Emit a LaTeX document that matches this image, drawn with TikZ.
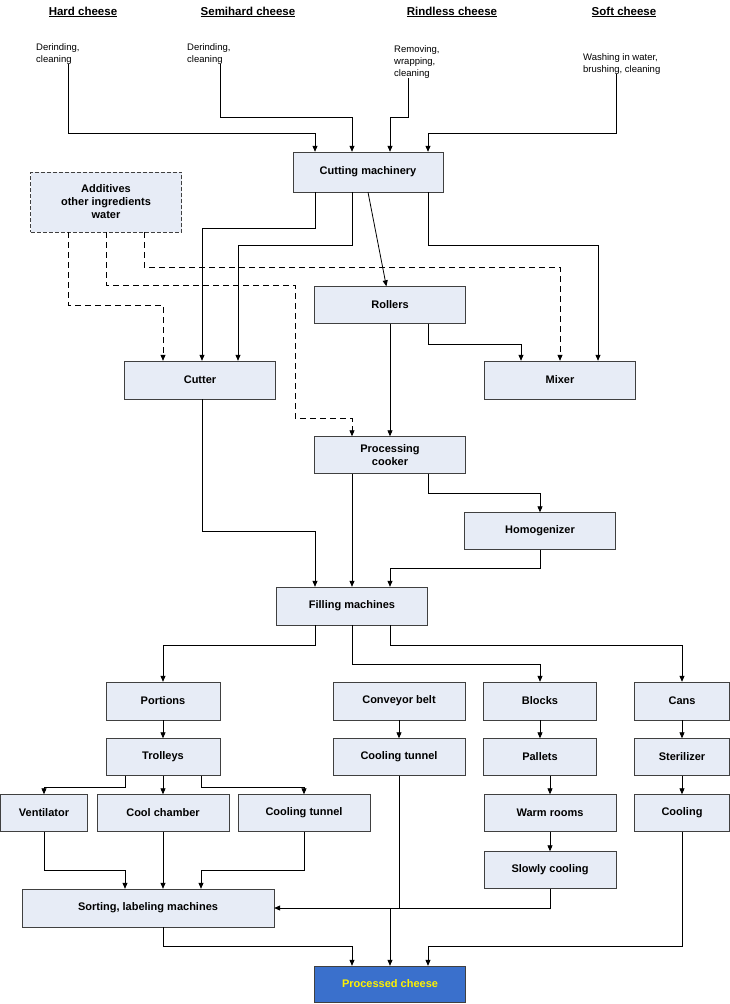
\documentclass[tikz,border=0pt]{standalone}
\usepackage{fontspec}
\setmainfont{Liberation Sans}
\usetikzlibrary{arrows.meta}
\definecolor{boxfill}{RGB}{231,236,246}
\definecolor{finalfill}{RGB}{58,112,204}

\begin{document}
\begin{tikzpicture}[
    x=1pt, y=-1pt,
    box/.style={draw=black!75, fill=boxfill, font=\bfseries\fontsize{11}{13}\selectfont, inner sep=1pt, align=center},
    head/.style={font=\bfseries\fontsize{11.5}{13}\selectfont, inner sep=0pt},
    note/.style={font=\fontsize{9.5}{12}\selectfont, align=left, anchor=north west, inner sep=0pt},
    flow/.style={-{Triangle[length=6pt,width=5pt]}, thick},
    add/.style={flow, dashed, dash pattern=on 6pt off 4pt}
]
   \useasboundingbox (0,0) rectangle (730,1004);

   % Sources
   \node[head] (hard) at (83,12) {\underline{Hard cheese}};
   \node[head] (semi) at (248,12) {\underline{Semihard cheese}};
   \node[head] (rind) at (452,12) {\underline{Rindless cheese}};
   \node[head] (soft) at (624,12) {\underline{Soft cheese}};
   \node[note] (hardn) at (36,43) {Derinding,\\cleaning};
   \node[note] (semin) at (187,43) {Derinding,\\cleaning};
   \node[note] (rindn) at (394,45) {Removing,\\wrapping,\\cleaning};
   \node[note] (softn) at (583,53) {Washing in water,\\brushing, cleaning};

   % Boxes
   \node[box, minimum width=150, minimum height=40] (cut) at (368,172) {Cutting machinery};
   \node[box, minimum width=151, minimum height=60, dashed, dash pattern=on 4pt off 2pt] (addi) at (106,202) {Additives\\other ingredients\\water};
   \node[box, minimum width=151, minimum height=37] (roll) at (390,305) {Rollers};
   \node[box, minimum width=151, minimum height=38] (cutter) at (200,380) {Cutter};
   \node[box, minimum width=151, minimum height=38] (mix) at (560,380) {Mixer};
   \node[box, minimum width=151, minimum height=37] (cook) at (390,455) {Processing\\cooker};
   \node[box, minimum width=151, minimum height=37] (homo) at (540,531) {Homogenizer};
   \node[box, minimum width=151, minimum height=38] (fill) at (352,606) {Filling machines};
   \node[box, minimum width=114, minimum height=38] (port) at (163,701) {Portions};
   \node[box, minimum width=132, minimum height=38] (belt) at (399,701) {Conveyor belt};
   \node[box, minimum width=113, minimum height=38] (block) at (540,701) {Blocks};
   \node[box, minimum width=95, minimum height=38] (cans) at (682,701) {Cans};
   \node[box, minimum width=114, minimum height=37] (troll) at (163,757) {Trolleys};
   \node[box, minimum width=132, minimum height=37] (tunA) at (399,757) {Cooling tunnel};
   \node[box, minimum width=113, minimum height=37] (pall) at (540,757) {Pallets};
   \node[box, minimum width=95, minimum height=37] (steri) at (682,757) {Sterilizer};
   \node[box, minimum width=87, minimum height=37] (vent) at (44,813) {Ventilator};
   \node[box, minimum width=132, minimum height=37] (cham) at (163,813) {Cool chamber};
   \node[box, minimum width=132, minimum height=37] (tunB) at (304,813) {Cooling tunnel};
   \node[box, minimum width=132, minimum height=37] (warm) at (550,813) {Warm rooms};
   \node[box, minimum width=95, minimum height=37] (cool) at (682,813) {Cooling};
   \node[box, minimum width=132, minimum height=37] (slow) at (550,870) {Slowly cooling};
   \node[box, minimum width=252, minimum height=38] (sort) at (148,908) {Sorting, labeling machines};
   \node[box, minimum width=151, minimum height=36, fill=finalfill, text=yellow] (proc) at (390,984) {Processed cheese};

   % Into the cutting machinery
   \draw[flow] (hardn.south -| 68,0) |- (315,133) -- (cut.north -| 315,0);
   \draw[flow] (semin.south -| 220,0) |- (352,117) -- (cut.north -| 352,0);
   \draw[flow] (rindn.south -| 408,0) |- (390,117) -- (cut.north -| 390,0);
   \draw[flow] (softn.south -| 616,0) |- (428,133) -- (cut.north -| 428,0);

   % Out of the cutting machinery
   \draw[flow] (cut.south -| 315,0) |- (202,228) -- (cutter.north -| 202,0);
   \draw[flow] (cut.south -| 352,0) |- (238,245) -- (cutter.north -| 238,0);
   \draw[flow] (cut.south) -- (roll);
   \draw[flow] (cut.south -| 428,0) |- (598,245) -- (mix.north -| 598,0);
   \draw[flow] (roll.south -| 428,0) |- (521,344) -- (mix.north -| 521,0);
   \draw[flow] (roll) -- (cook);

   % Additives
   \draw[add] (addi.south -| 68,0) |- (163,305) -- (cutter.north -| 163,0);
   \draw[add] (addi.south -| 106,0) |- (295,285) |- (352,418) -- (cook.north -| 352,0);
   \draw[add] (addi.south -| 144,0) |- (560,267) -- (mix.north -| 560,0);

   % To the filling machines
   \draw[flow] (cutter.south -| 202,0) |- (315,531) -- (fill.north -| 315,0);
   \draw[flow] (cook.south -| 352,0) -- (fill.north -| 352,0);
   \draw[flow] (cook.south -| 428,0) |- (540,493) -- (homo.north);
   \draw[flow] (homo.south) |- (390,568) -- (fill.north -| 390,0);

   % Out of the filling machines
   \draw[flow] (fill.south -| 315,0) |- (163,645) -- (port.north);
   \draw[flow] (fill.south -| 352,0) |- (540,664) -- (block.north);
   \draw[flow] (fill.south -| 390,0) |- (682,645) -- (cans.north);

   \draw[flow] (port) -- (troll);
   \draw[flow] (belt) -- (tunA);
   \draw[flow] (block) -- (pall);
   \draw[flow] (cans) -- (steri);
   \draw[flow] (steri) -- (cool);
   \draw[flow] (pall.south -| 550,0) -- (warm);
   \draw[flow] (warm) -- (slow);

   \draw[flow] (troll.south -| 125,0) |- (44,787) -- (vent.north);
   \draw[flow] (troll) -- (cham);
   \draw[flow] (troll.south -| 201,0) |- (304,787) -- (tunB.north);
   \draw[flow] (vent.south) |- (125,870) -- (sort.north -| 125,0);
   \draw[flow] (cham.south) -- (sort.north -| 163,0);
   \draw[flow] (tunB.south) |- (201,870) -- (sort.north -| 201,0);
   \draw[flow] (tunA.south) |- (sort.east);

   % To the processed cheese
   \draw[flow] (sort.south -| 163,0) |- (352,946) -- (proc.north -| 352,0);
   \draw[flow] (slow.south) |- (390,908) -- (proc.north);
   \draw[flow] (cool.south) |- (428,946) -- (proc.north -| 428,0);
\end{tikzpicture}
\end{document}
